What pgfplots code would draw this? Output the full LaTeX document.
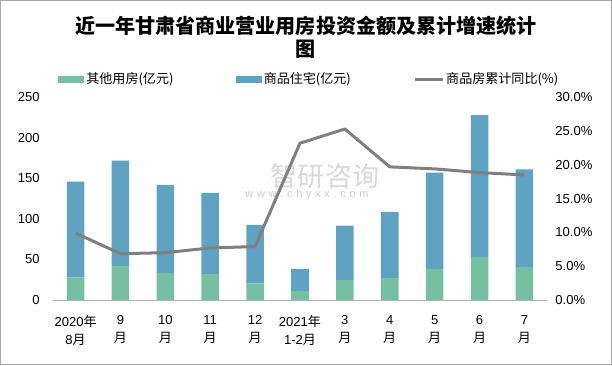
\documentclass[border=0pt]{standalone}
\usepackage{fontspec}
\setmainfont{Liberation Sans}
\newfontfamily\cjk{Noto Sans CJK SC}
\usepackage{pgfplots}
\pgfplotsset{compat=1.18}
\definecolor{cgreen}{RGB}{118,191,162}
\definecolor{cblue}{RGB}{95,163,195}
\definecolor{cline}{RGB}{128,128,128}
\newcommand{\yue}{{\cjk 月}}
\newcommand{\nian}{{\cjk 年}}
\begin{document}
\begin{tikzpicture}[x=1bp,y=1bp]
\draw[gray!70, line width=0.8bp] (1.5,1.5) rectangle (610.5,364.5);
\node[font=\cjk\bfseries\fontsize{20bp}{24bp}\selectfont] at (306,339) {近一年甘肃省商业营业用房投资金额及累计增速统计};
\node[font=\cjk\bfseries\fontsize{20bp}{24bp}\selectfont] at (306,316) {图};
% watermark
\node[text=gray!30, font=\cjk\fontsize{27bp}{27bp}\selectfont] at (325,189) {智研咨询};
\node[text=gray!40, font=\fontsize{11bp}{11bp}\selectfont] at (307,171) {w\,\,w\,\,w\,\,.\,\,c\,\,h\,\,y\,\,x\,\,x\,\,.\,\,c\,\,o\,\,m};
\begin{axis}[
  at={(54bp,66bp)}, anchor=south west, scale only axis,
  width=492bp, height=202bp,
  xmin=-0.5, xmax=10.5, ymin=0, ymax=250,
  ybar stacked, bar width=17.5bp,
  axis x line*=bottom, axis y line*=left,
  x axis line style={draw=gray!60, line width=0.8bp},
  y axis line style={draw=none},
  major tick length=0pt,
  xtick={0,...,10},
  xticklabels={{2020\nian\\8\yue},{9\\\yue},{10\\\yue},{11\\\yue},{12\\\yue},{2021\nian\\1-2\yue},{3\\\yue},{4\\\yue},{5\\\yue},{6\\\yue},{7\\\yue}},
  xticklabel style={align=center, font=\fontsize{13bp}{18bp}\selectfont, yshift=-12bp},
  ytick={0,50,...,250},
  yticklabel style={font=\fontsize{13bp}{15bp}\selectfont, xshift=-10bp},
  /pgf/number format/assume math mode=true,
  legend columns=3,
  legend style={draw=none, fill=none, at={(axis description cs:0,1)}, anchor=west,
    xshift=2bp, yshift=18bp,
    font=\cjk\fontsize{13bp}{15bp}\selectfont,
    /tikz/every even column/.append style={column sep=60bp}},
]
\addplot[fill=cgreen, draw=none, legend image code/.code={\fill[cgreen] (0bp,-3.5bp) rectangle (26bp,3.5bp);}]
  coordinates {(0,28) (1,42) (2,33) (3,32) (4,20.6) (5,11) (6,24.8) (7,27) (8,38) (9,53) (10,40.5)};
\addlegendentry{其他用房(亿元)}
\addplot[fill=cblue, draw=none, legend image code/.code={\fill[cblue] (0bp,-3.5bp) rectangle (26bp,3.5bp);}]
  coordinates {(0,118) (1,130) (2,109) (3,100) (4,72) (5,27) (6,67) (7,81.6) (8,119) (9,175) (10,120.5)};
\addlegendentry{商品住宅(亿元)}
\addlegendimage{cline, line width=3bp, legend image code/.code={\draw[cline, line width=3bp] (0bp,0bp) -- (28bp,0bp);}}
\addlegendentry{商品房累计同比(\%)}
\end{axis}
\begin{axis}[
  at={(54bp,66bp)}, anchor=south west, scale only axis,
  width=492bp, height=202bp,
  xmin=-0.5, xmax=10.5, ymin=0, ymax=30,
  axis x line=none, axis y line*=right,
  y axis line style={draw=none},
  major tick length=0pt,
  ytick={0,5,...,30},
  yticklabels={0.0\%,5.0\%,10.0\%,15.0\%,20.0\%,25.0\%,30.0\%},
  yticklabel style={font=\fontsize{13bp}{15bp}\selectfont, anchor=west, xshift=5bp},
]
\addplot[cline, line width=3bp, line join=round, mark=none]
  coordinates {(0,9.9) (1,6.85) (2,7.0) (3,7.7) (4,7.9) (5,23.2) (6,25.3) (7,19.7) (8,19.4) (9,18.85) (10,18.5)};
\end{axis}
\end{tikzpicture}
\end{document}
